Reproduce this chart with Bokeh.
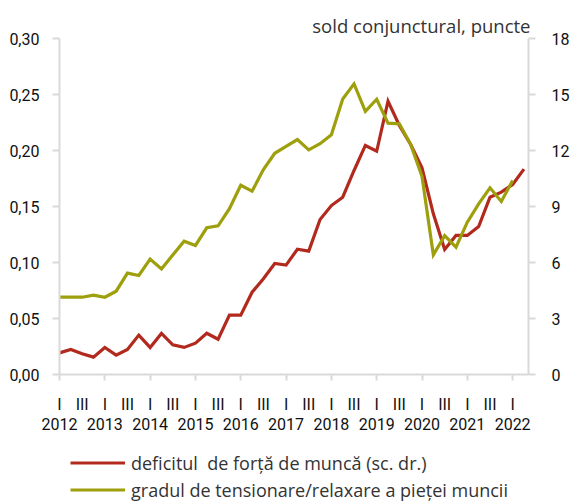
from bokeh.plotting import figure
from bokeh.layouts import column
from bokeh.models import (Range1d, LinearAxis, FixedTicker, CustomJSTickFormatter,
                          Legend, LegendItem)
from bokeh.embed import file_html
from bokeh.resources import INLINE

# ---- data (quarterly, 2012 Q1 onwards) ----
years = ["2012", "2013", "2014", "2015", "2016", "2017", "2018", "2019", "2020", "2021", "2022"]
quarter_labels = ["I", "", "III", ""]

# deficitul de forta de munca (right axis, sold conjunctural, puncte), 2012Q1-2022Q2
deficit = [1.16, 1.34, 1.11, 0.93, 1.45, 1.04, 1.34, 2.11, 1.45, 2.20, 1.59, 1.45,
           1.68, 2.21, 1.89, 3.18, 3.18, 4.41, 5.13, 5.95, 5.86, 6.71, 6.61, 8.30,
           9.05, 9.50, 10.93, 12.27, 11.96, 14.64, 13.34, 12.32, 11.07, 8.61, 6.70, 7.45,
           7.45, 7.93, 9.50, 9.77, 10.18, 11.00]
# gradul de tensionare/relaxare a pietei muncii (left axis), 2012Q1-2022Q1
tension = [0.069, 0.069, 0.069, 0.0708, 0.069, 0.0744, 0.0905, 0.0884, 0.103, 0.0943,
           0.1068, 0.119, 0.1152, 0.131, 0.1328, 0.148, 0.169, 0.1637, 0.183, 0.1975,
           0.2036, 0.2098, 0.2006, 0.206, 0.214, 0.246, 0.2595, 0.235, 0.2458, 0.2244,
           0.2238, 0.2054, 0.1768, 0.1068, 0.124, 0.1137, 0.136, 0.1524, 0.1667, 0.1545,
           0.1732]

left_ticks = [0.0, 0.05, 0.10, 0.15, 0.20, 0.25, 0.30]
right_ticks = [0, 3, 6, 9, 12, 15, 18]

title_text = "sold conjunctural, puncte"
legend_red = "deficitul  de forță de muncă (sc. dr.)"
legend_green = "gradul de tensionare/relaxare a pieței muncii"

x_deficit = list(range(len(deficit)))
x_tension = list(range(len(tension)))
year_ticks = [4 * i for i in range(len(years))]
half_ticks = [2 * i for i in range(2 * len(years) - 1)]

RED = "#b22a1d"
GREEN = "#9d9f0c"
AXIS = "#d9d9d9"
TICK_FONT = "Roboto"
TEXT_FONT = "'Open Sans'"

p = figure(width=572, height=432, x_range=Range1d(0, 41.4), y_range=Range1d(0, 0.30),
           output_backend="svg", toolbar_location=None,
           x_axis_location=None, y_axis_location=None,
           min_border_left=59, min_border_right=43, min_border_top=38, min_border_bottom=58)
p.outline_line_color = None
p.grid.visible = False
p.background_fill_color = "white"
p.border_fill_color = "white"
p.extra_y_ranges = {"right": Range1d(0, 18)}

p.title.text = title_text
p.title.align = "right"
p.title.offset = -2
p.title.standoff = 1
p.title.text_font = TEXT_FONT
p.title.text_font_size = "18.5px"
p.title.text_font_style = "normal"
p.title.text_color = "#333333"

def style_axis(ax):
    ax.axis_line_color = AXIS
    ax.axis_line_width = 2
    ax.major_tick_line_color = AXIS
    ax.major_tick_line_width = 2
    ax.major_tick_in = 0
    ax.minor_tick_line_color = None
    ax.major_label_text_font = TICK_FONT
    ax.major_label_text_font_size = "16px"
    ax.major_label_text_color = "#111111"

yl = LinearAxis(ticker=FixedTicker(ticks=left_ticks),
                formatter=CustomJSTickFormatter(code="return tick.toFixed(2).replace('.', ',')"))
style_axis(yl)
yl.major_tick_out = 7
yl.major_label_standoff = 13
p.add_layout(yl, "left")

yr = LinearAxis(y_range_name="right", ticker=FixedTicker(ticks=right_ticks),
                formatter=CustomJSTickFormatter(code="return tick.toFixed(0)"))
style_axis(yr)
yr.major_tick_out = 7
yr.major_label_standoff = 16
p.add_layout(yr, "right")

xq = LinearAxis(ticker=FixedTicker(ticks=half_ticks, minor_ticks=year_ticks),
                formatter=CustomJSTickFormatter(args=dict(q=quarter_labels),
                                                code="return q[Math.round(tick) % 4]"))
style_axis(xq)
xq.major_tick_line_color = None
xq.major_tick_out = 0
xq.minor_tick_line_color = AXIS
xq.minor_tick_line_width = 2
xq.minor_tick_out = 6
xq.minor_tick_in = 0
xq.major_label_standoff = 14
p.add_layout(xq, "below")

xy = LinearAxis(ticker=FixedTicker(ticks=year_ticks),
                formatter=CustomJSTickFormatter(args=dict(y=years),
                                                code="return y[Math.round(tick / 4)]"))
style_axis(xy)
xy.axis_line_color = None
xy.major_tick_line_color = None
xy.major_tick_out = 0
xy.major_label_standoff = 1
p.add_layout(xy, "below")

p.line(x_deficit, deficit, y_range_name="right", line_color=RED, line_width=3.2,
       line_join="miter")
p.line(x_tension, tension, line_color=GREEN, line_width=3.2, line_join="miter")

# ---- legend strip below the chart (frame aligned with the chart's frame) ----
nan = float("nan")
lg = figure(width=572, height=71, x_range=Range1d(0, 1), y_range=Range1d(0, 1),
            output_backend="svg", toolbar_location=None,
            x_axis_location=None, y_axis_location=None,
            min_border_left=0, min_border_right=0, min_border_top=0, min_border_bottom=0)
lg.outline_line_color = None
lg.grid.visible = False
lg_red = lg.line([nan], [nan], line_color=RED, line_width=3.2)
lg_green = lg.line([nan], [nan], line_color=GREEN, line_width=3.2)
legend = Legend(items=[LegendItem(label=legend_red, renderers=[lg_red]),
                       LegendItem(label=legend_green, renderers=[lg_green])],
                location=(11, 0), orientation="vertical",
                glyph_width=55, glyph_height=27, label_height=27, label_standoff=6,
                spacing=0, padding=0, margin=0,
                border_line_color=None, background_fill_alpha=0,
                label_text_font=TEXT_FONT, label_text_font_size="18px",
                label_text_color="#333333")
lg.add_layout(legend, "center")

layout = column(p, lg, spacing=0)
open("out.html", "w").write(file_html(layout, INLINE))
